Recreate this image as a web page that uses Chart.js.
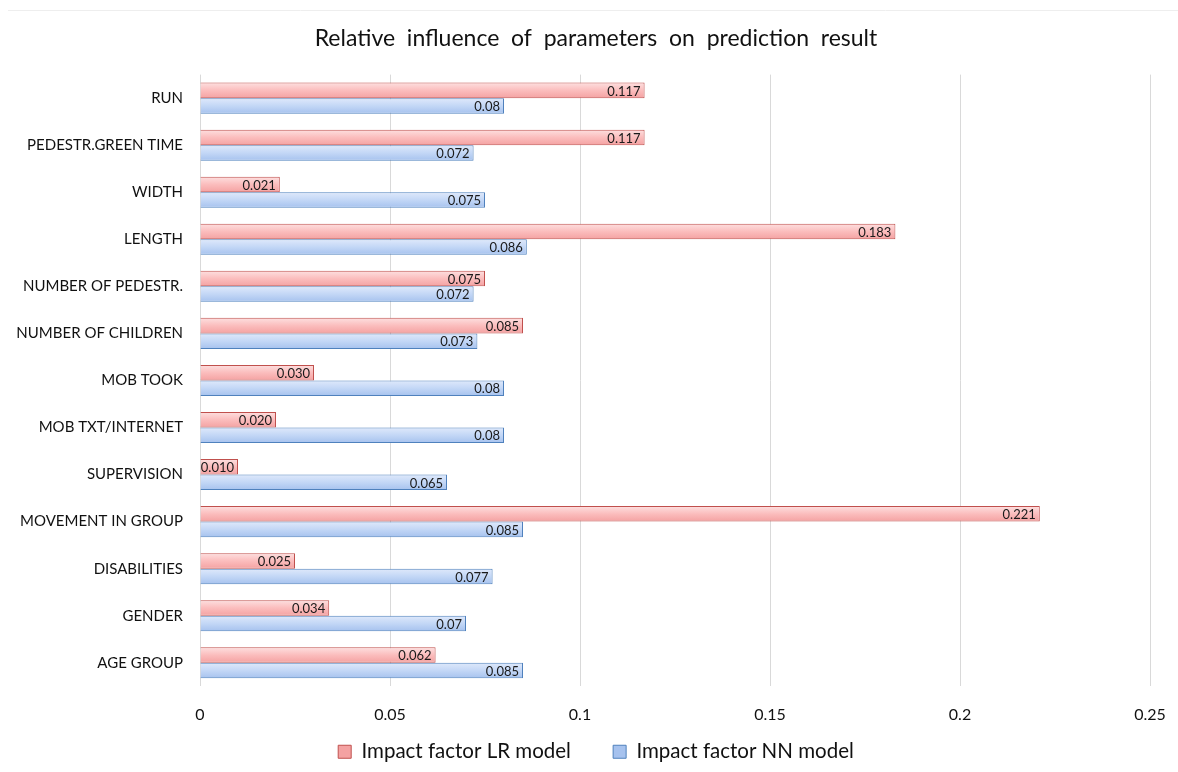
<!DOCTYPE html>
<html>
<head>
<meta charset="utf-8">
<script src="https://cdn.jsdelivr.net/npm/chart.js@4/dist/chart.umd.min.js"></script>
<style>
    html, body { margin: 0; padding: 0; background: #fff; }
    #wrap { width: 1178px; height: 772px; position: relative; }
</style>
</head>
<body>
<div id="wrap"><canvas id="chart" width="1178" height="772"></canvas></div>
<script>
const categories = [
    "RUN", "PEDESTR.GREEN TIME", "WIDTH", "LENGTH", "NUMBER OF PEDESTR.",
    "NUMBER OF CHILDREN", "MOB TOOK", "MOB TXT/INTERNET", "SUPERVISION",
    "MOVEMENT IN GROUP", "DISABILITIES", "GENDER", "AGE GROUP"
];
const lrValues = [0.117, 0.117, 0.021, 0.183, 0.075, 0.085, 0.030, 0.020, 0.010, 0.221, 0.025, 0.034, 0.062];
const nnValues = [0.08, 0.072, 0.075, 0.086, 0.072, 0.073, 0.08, 0.08, 0.065, 0.085, 0.077, 0.07, 0.085];
const xTicks = [0, 0.05, 0.1, 0.15, 0.2, 0.25];

const FONT = "Lato, 'Open Sans', sans-serif";
const CAT_PCT = 0.66;

// white background plus the thin rule at the top
const backdrop = {
    id: "backdrop",
    beforeDraw(chart) {
        const ctx = chart.ctx;
        ctx.save();
        ctx.fillStyle = "#fff";
        ctx.fillRect(0, 0, chart.width, chart.height);
        ctx.strokeStyle = "#eeeeee";
        ctx.lineWidth = 1;
        ctx.beginPath();
        ctx.moveTo(8, 10.5);
        ctx.lineTo(chart.width, 10.5);
        ctx.stroke();
        ctx.restore();
    }
};

// value labels inside the bar end
const valueLabels = {
    id: "valueLabels",
    afterDatasetsDraw(chart) {
        const ctx = chart.ctx;
        ctx.save();
        ctx.font = "13px " + FONT;
        ctx.fillStyle = "#1a1a1a";
        ctx.textAlign = "right";
        ctx.textBaseline = "middle";
        chart.data.datasets.forEach((ds, i) => {
            chart.getDatasetMeta(i).data.forEach((bar, j) => {
                const v = ds.data[j];
                const txt = i === 0 ? v.toFixed(3) : String(v);
                ctx.fillText(txt, bar.x - 4, bar.y + 1);
            });
        });
        ctx.restore();
    }
};

// vertical shading of each bar, placed with the category scale
function shade(stops, solid) {
    return (context) => {
        const chart = context.chart;
        const ys = chart.scales.y;
        if (!ys || !chart.chartArea || context.dataIndex === undefined) return solid;
        const band = (ys.bottom - ys.top) / categories.length;
        const thick = band * CAT_PCT / 2;
        const mid = ys.getPixelForValue(context.dataIndex);
        const top = context.datasetIndex === 0 ? mid - thick : mid;
        const g = chart.ctx.createLinearGradient(0, top, 0, top + thick);
        g.addColorStop(0, stops[0]);
        g.addColorStop(0.5, stops[1]);
        g.addColorStop(1, stops[2]);
        return g;
    };
}

new Chart(document.getElementById("chart"), {
    type: "bar",
    data: {
        labels: categories,
        datasets: [
            {
                label: "Impact factor LR model",
                data: lrValues,
                backgroundColor: shade(["#fde0e0", "#fbbdbd", "#f4a2a2"], "#f8bfbf"),
                borderColor: "#c0504d",
                borderWidth: 1,
                borderSkipped: "left"
            },
            {
                label: "Impact factor NN model",
                data: nnValues,
                backgroundColor: shade(["#dfe9fb", "#c3d7f6", "#a6c2ee"], "#c3d7f4"),
                borderColor: "#4f81bd",
                borderWidth: 1,
                borderSkipped: "left"
            }
        ]
    },
    options: {
        indexAxis: "y",
        responsive: false,
        animation: false,
        layout: { padding: { left: 14, right: 0, top: 14, bottom: 0 } },
        datasets: { bar: { categoryPercentage: CAT_PCT, barPercentage: 1 } },
        plugins: {
            title: {
                display: true,
                text: "Relative  influence  of  parameters  on  prediction  result",
                color: "#111",
                font: { family: FONT, size: 23, weight: "normal" },
                padding: { top: 11, bottom: 22 }
            },
            legend: {
                position: "bottom",
                labels: {
                    color: "#111",
                    font: { family: FONT, size: 20.5 },
                    boxWidth: 13,
                    boxHeight: 13,
                    padding: 14,
                    generateLabels(chart) {
                        const items = Chart.defaults.plugins.legend.labels.generateLabels(chart);
                        // wider gap between the two entries
                        items[0].text += "\u2003\u2002\u2009";
                        return items;
                    }
                }
            },
            tooltip: { enabled: false }
        },
        scales: {
            x: {
                min: 0,
                max: 0.25,
                afterBuildTicks(axis) {
                    axis.ticks = xTicks.map(v => ({ value: v }));
                },
                afterFit(axis) {
                    axis.height -= 16;
                    axis.paddingLeft = 0;
                    axis.paddingRight = 28;
                },
                ticks: {
                    color: "#111",
                    font: { family: FONT, size: 16 },
                    padding: 19,
                    callback: v => String(v)
                },
                grid: { color: "#d9d9d9", drawTicks: false },
                border: { display: false }
            },
            y: {
                afterFit(axis) { axis.width = 186; },
                ticks: {
                    color: "#111",
                    font: { family: FONT, size: 15 },
                    padding: 9
                },
                grid: { display: false },
                border: { display: false }
            }
        }
    },
    plugins: [backdrop, valueLabels]
});
</script>
</body>
</html>
